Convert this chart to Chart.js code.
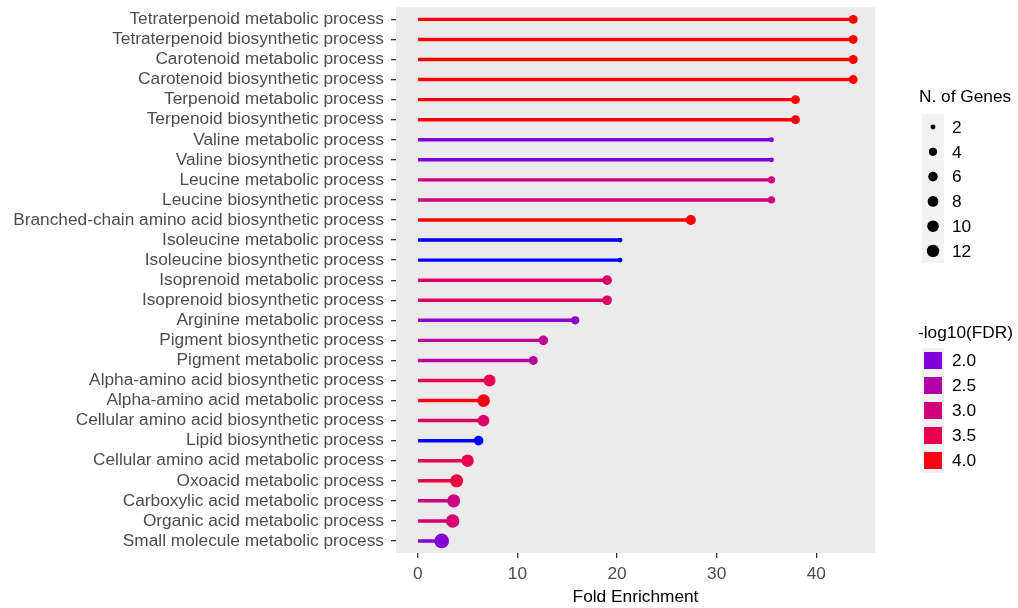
<!DOCTYPE html>
<html>
<head>
<meta charset="utf-8">
<script src="https://cdn.jsdelivr.net/npm/chart.js@4.4.1/dist/chart.umd.min.js"></script>
<style>
  html, body { margin: 0; padding: 0; background: #ffffff; }
  #wrap { position: relative; width: 1018px; height: 608px; }
</style>
</head>
<body>
<div id="wrap"><canvas id="chart" width="1018" height="608"></canvas></div>
<script>
// GO terms, top to bottom
const categories = [
  'Tetraterpenoid metabolic process',
  'Tetraterpenoid biosynthetic process',
  'Carotenoid metabolic process',
  'Carotenoid biosynthetic process',
  'Terpenoid metabolic process',
  'Terpenoid biosynthetic process',
  'Valine metabolic process',
  'Valine biosynthetic process',
  'Leucine metabolic process',
  'Leucine biosynthetic process',
  'Branched-chain amino acid biosynthetic process',
  'Isoleucine metabolic process',
  'Isoleucine biosynthetic process',
  'Isoprenoid metabolic process',
  'Isoprenoid biosynthetic process',
  'Arginine metabolic process',
  'Pigment biosynthetic process',
  'Pigment metabolic process',
  'Alpha-amino acid biosynthetic process',
  'Alpha-amino acid metabolic process',
  'Cellular amino acid biosynthetic process',
  'Lipid biosynthetic process',
  'Cellular amino acid metabolic process',
  'Oxoacid metabolic process',
  'Carboxylic acid metabolic process',
  'Organic acid metabolic process',
  'Small molecule metabolic process'
];

const foldEnrichment = [
  43.7, 43.7, 43.7, 43.7, 37.9, 37.9, 35.5, 35.5, 35.5, 35.5,
  27.4, 20.3, 20.3, 19.0, 19.0, 15.8, 12.6, 11.6, 7.2, 6.6,
  6.6, 6.1, 5.0, 3.9, 3.6, 3.5, 2.4
];

const nGenes = [
  5, 5, 5, 5, 5, 5, 2, 2, 3, 3,
  7, 2, 2, 6, 6, 4, 6, 5, 11, 13,
  10, 6, 12, 14, 14, 15, 19
];

const negLog10FDR = [
  4.1, 4.1, 4.1, 4.1, 4.05, 4.05, 2.0, 2.0, 3.0, 3.0,
  4.1, 1.6, 1.6, 3.2, 3.2, 2.1, 2.7, 2.6, 3.4, 4.0,
  3.2, 1.6, 3.5, 3.6, 2.9, 3.1, 2.05
];

const xTicks = [0, 10, 20, 30, 40];
const sizeBreaks = [2, 4, 6, 8, 10, 12];
const colorBreaks = [2.0, 2.5, 3.0, 3.5, 4.0];

const FONT = '"Liberation Sans", Arial, Helvetica, sans-serif';
const FONT_SIZE = 17.3;

// ---- colour scale: blue -> red, interpolated in CIE Lab ----
function rgb2lab(rgb) {
  const lin = c => { c /= 255; return c <= 0.04045 ? c / 12.92 : Math.pow((c + 0.055) / 1.055, 2.4); };
  const R = lin(rgb[0]), G = lin(rgb[1]), B = lin(rgb[2]);
  const X = (0.4124 * R + 0.3576 * G + 0.1805 * B) / 0.95047;
  const Y = (0.2126 * R + 0.7152 * G + 0.0722 * B);
  const Z = (0.0193 * R + 0.1192 * G + 0.9505 * B) / 1.08883;
  const f = t => t > 0.008856 ? Math.cbrt(t) : 7.787 * t + 16 / 116;
  return [116 * f(Y) - 16, 500 * (f(X) - f(Y)), 200 * (f(Y) - f(Z))];
}
function lab2rgb(lab) {
  const fy = (lab[0] + 16) / 116, fx = fy + lab[1] / 500, fz = fy - lab[2] / 200;
  const inv = t => t * t * t > 0.008856 ? t * t * t : (t - 16 / 116) / 7.787;
  const X = inv(fx) * 0.95047, Y = inv(fy), Z = inv(fz) * 1.08883;
  const R = 3.2406 * X - 1.5372 * Y - 0.4986 * Z;
  const G = -0.9689 * X + 1.8758 * Y + 0.0415 * Z;
  const B = 0.0557 * X - 0.2040 * Y + 1.0570 * Z;
  const g = c => { c = Math.min(1, Math.max(0, c)); return Math.round(255 * (c <= 0.0031308 ? 12.92 * c : 1.055 * Math.pow(c, 1 / 2.4) - 0.055)); };
  return 'rgb(' + g(R) + ',' + g(G) + ',' + g(B) + ')';
}
const LAB_LOW = rgb2lab([0, 0, 255]);
const LAB_HIGH = rgb2lab([255, 0, 0]);
const fdrMin = Math.min(...negLog10FDR);
const fdrMax = Math.max(...negLog10FDR);
function fdrColor(v) {
  const t = Math.min(1, Math.max(0, (v - fdrMin) / (fdrMax - fdrMin)));
  return lab2rgb(LAB_LOW.map((c, i) => c + (LAB_HIGH[i] - c) * t));
}

// ---- size scale: area grows with gene count ----
function geneRadius(n) {
  return (4.8 + 2.4 * Math.sqrt(Math.max(0, n - 2))) / 2;
}

const xMax = Math.max(...foldEnrichment);

// panel background, drawn under the marks
const panelBg = {
  id: 'panelBg',
  beforeDraw(chart) {
    const { ctx, chartArea: a } = chart;
    ctx.save();
    ctx.fillStyle = '#EBEBEB';
    ctx.fillRect(a.left, a.top, a.right - a.left, a.bottom - a.top);
    ctx.restore();
  }
};

// the two legends on the right
const sideLegends = {
  id: 'sideLegends',
  afterDraw(chart) {
    const ctx = chart.ctx;
    ctx.save();
    ctx.font = FONT_SIZE + 'px ' + FONT;
    ctx.textBaseline = 'middle';
    ctx.textAlign = 'left';

    // N. of Genes
    ctx.fillStyle = '#000';
    ctx.fillText('N. of Genes', 919, 97);
    ctx.fillStyle = '#F2F2F2';
    ctx.fillRect(922, 114, 22, 149);
    sizeBreaks.forEach((n, i) => {
      const y = 127 + i * 24.8;
      ctx.fillStyle = '#000';
      ctx.beginPath();
      ctx.arc(933, y, geneRadius(n), 0, Math.PI * 2);
      ctx.fill();
      ctx.fillText(String(n), 952, y + 1);
    });

    // -log10(FDR)
    ctx.fillStyle = '#000';
    ctx.fillText('-log10(FDR)', 918, 333);
    ctx.fillStyle = '#F2F2F2';
    ctx.fillRect(922, 348, 22, 125);
    colorBreaks.forEach((v, i) => {
      const y = 360.5 + i * 25;
      ctx.fillStyle = fdrColor(v);
      ctx.fillRect(924, y - 8.5, 18, 17);
      ctx.fillStyle = '#000';
      ctx.fillText(v.toFixed(1), 952, y + 1);
    });
    ctx.restore();
  }
};

const colors = negLog10FDR.map(fdrColor);

new Chart(document.getElementById('chart'), {
  type: 'bubble',
  data: {
    datasets: [
      {
        label: 'N. of Genes',
        data: categories.map((c, i) => ({ x: foldEnrichment[i], y: i, r: geneRadius(nGenes[i]) })),
        backgroundColor: colors,
        borderWidth: 0,
        order: 0
      },
      {
        type: 'bar',
        label: 'Fold Enrichment',
        indexAxis: 'y',
        data: categories.map((c, i) => ({ x: [0, foldEnrichment[i]], y: i })),
        backgroundColor: colors,
        borderWidth: 0,
        barThickness: 2.8,
        order: 1
      }
    ]
  },
  options: {
    responsive: false,
    animation: false,
    devicePixelRatio: 1,
    layout: { padding: { top: 7, right: 143, left: 0, bottom: 0 } },
    plugins: { legend: { display: false }, tooltip: { enabled: false } },
    scales: {
      x: {
        type: 'linear',
        offset: false,
        min: -0.05 * xMax,
        max: 1.05 * xMax,
        afterBuildTicks: s => { s.ticks = xTicks.map(v => ({ value: v })); },
        afterFit: s => { s.height = 55; s.paddingLeft = 0; s.paddingRight = 0; },
        grid: { offset: false, drawOnChartArea: false, drawTicks: true, tickLength: 5, color: '#333333', lineWidth: 1.3 },
        border: { display: false },
        ticks: { color: '#4D4D4D', font: { family: FONT, size: FONT_SIZE }, padding: 6, maxRotation: 0 },
        title: { display: true, text: 'Fold Enrichment', color: '#000', font: { family: FONT, size: FONT_SIZE }, padding: { top: 0, bottom: 0 } }
      },
      y: {
        type: 'linear',
        offset: false,
        reverse: true,
        min: -0.6,
        max: categories.length - 1 + 0.6,
        afterBuildTicks: s => { s.ticks = categories.map((c, i) => ({ value: i })); },
        afterFit: s => { s.width = 396; s.paddingTop = 0; s.paddingBottom = 0; },
        grid: { offset: false, drawOnChartArea: false, drawTicks: true, tickLength: 5, color: '#333333', lineWidth: 1.3 },
        border: { display: false },
        ticks: {
          autoSkip: false,
          color: '#4D4D4D',
          font: { family: FONT, size: FONT_SIZE },
          padding: 7,
          callback: v => categories[v]
        }
      }
    }
  },
  plugins: [panelBg, sideLegends]
});
</script>
</body>
</html>
